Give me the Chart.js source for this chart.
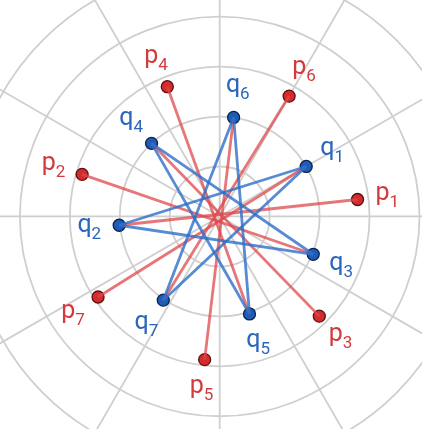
<!DOCTYPE html>
<html>
<head>
<meta charset="utf-8">
<script src="https://cdn.jsdelivr.net/npm/chart.js@4"></script>
<style>
  html, body { margin: 0; padding: 0; background: #fff; }
  #wrap { position: relative; width: 422px; height: 429px; }
</style>
</head>
<body>
<div id="wrap"><canvas id="chart"></canvas></div>
<script>
// polar positions (radius in grid units, angle in degrees)
const pLabels = ["1", "2", "3", "4", "5", "6", "7"];
const pRadius = [1.39, 1.44, 1.41, 1.40, 1.44, 1.39, 1.46];
const pAngle = [7, 163, 315, 112, 264, 60, 213.5];

const qLabels = ["1", "2", "3", "4", "5", "6", "7"];
const qRadius = [1.0, 1.01, 1.01, 1.0, 1.02, 1.0, 1.01];
const qAngle = [30, 185, 338, 133, 287, 82, 236];

// red: p_i -> q_j, blue: q_i -> q_j
const redLinks = [[0, 1], [1, 2], [2, 3], [3, 4], [4, 5], [5, 6], [6, 0]];
const blueLinks = [[0, 1], [1, 2], [2, 3], [3, 4], [4, 5], [5, 6], [6, 0]];

// polar grid
const ringRadii = [0.5, 1, 1.5, 2, 2.5];
const spokeAngles = [0, 30, 60, 90, 120, 150, 180, 210, 240, 270, 300, 330];

const RED = "#d42b2e";
const BLUE = "#1c5db8";

function toXY(r, deg) {
  const a = (deg * Math.PI) / 180;
  return { x: r * Math.cos(a), y: r * Math.sin(a) };
}

const pPoints = pRadius.map((r, i) => toXY(r, pAngle[i]));
const qPoints = qRadius.map((r, i) => toXY(r, qAngle[i]));

const datasets = [];

blueLinks.forEach(([a, b]) => {
  datasets.push({
    data: [qPoints[a], qPoints[b]],
    showLine: true,
    borderColor: "rgba(45, 110, 200, 0.8)",
    borderWidth: 2.8,
    pointRadius: 0,
  });
});

redLinks.forEach(([a, b]) => {
  datasets.push({
    data: [pPoints[a], qPoints[b]],
    showLine: true,
    borderColor: "rgba(222, 72, 75, 0.75)",
    borderWidth: 2.8,
    pointRadius: 0,
  });
});

datasets.push({
  data: pPoints,
  pointRadius: 6,
  pointBackgroundColor: RED,
  pointBorderColor: "#5a1010",
  pointBorderWidth: 1.3,
});
datasets.push({
  data: qPoints,
  pointRadius: 6,
  pointBackgroundColor: BLUE,
  pointBorderColor: "#0c2350",
  pointBorderWidth: 1.3,
});

// draws the circles and spokes behind everything
const polarGrid = {
  id: "polarGrid",
  beforeDatasetsDraw(chart) {
    const { ctx } = chart;
    const xs = chart.scales.x;
    const ys = chart.scales.y;
    const cx = xs.getPixelForValue(0);
    const cy = ys.getPixelForValue(0);
    const unit = xs.getPixelForValue(1) - cx;
    ctx.save();
    ctx.strokeStyle = "#cfcfcf";
    ctx.lineWidth = 1.8;
    ringRadii.forEach((r) => {
      ctx.beginPath();
      ctx.arc(cx, cy, r * unit, 0, Math.PI * 2);
      ctx.stroke();
    });
    spokeAngles.forEach((deg) => {
      const end = toXY(3.2, deg);
      ctx.beginPath();
      ctx.moveTo(cx, cy);
      ctx.lineTo(xs.getPixelForValue(end.x), ys.getPixelForValue(end.y));
      ctx.stroke();
    });
    ctx.restore();
  },
};

// "p" / "q" labels with subscript, pushed outward from each point
const pointLabels = {
  id: "pointLabels",
  afterDatasetsDraw(chart) {
    const { ctx } = chart;
    const xs = chart.scales.x;
    const ys = chart.scales.y;
    const unit = xs.getPixelForValue(1) - xs.getPixelForValue(0);
    const offset = 30 / unit;

    function put(letter, sub, r, deg, color) {
      const pos = toXY(r + offset, deg);
      const px = xs.getPixelForValue(pos.x);
      const py = ys.getPixelForValue(pos.y);
      ctx.font = "25px Roboto";
      const w1 = ctx.measureText(letter).width;
      ctx.font = "17px Roboto";
      const w2 = ctx.measureText(sub).width;
      const left = px - (w1 + w2) / 2;
      ctx.fillStyle = color;
      ctx.textBaseline = "alphabetic";
      ctx.textAlign = "left";
      ctx.font = "25px Roboto";
      ctx.fillText(letter, left, py + 4);
      ctx.font = "17px Roboto";
      ctx.fillText(sub, left + w1, py + 11);
    }

    ctx.save();
    pLabels.forEach((s, i) => put("p", s, pRadius[i], pAngle[i], "#d43a3c"));
    qLabels.forEach((s, i) => put("q", s, qRadius[i], qAngle[i], "#2a66bd"));
    ctx.restore();
  },
};

new Chart(document.getElementById("chart"), {
  type: "scatter",
  data: { datasets },
  options: {
    responsive: true,
    maintainAspectRatio: false,
    animation: false,
    clip: false,
    layout: { padding: 0 },
    plugins: { legend: { display: false }, tooltip: { enabled: false } },
    scales: {
      x: { type: "linear", min: -2.126, max: 1.952, display: false },
      y: { type: "linear", min: -2.053, max: 2.092, display: false },
    },
  },
  plugins: [polarGrid, pointLabels],
});
</script>
</body>
</html>
